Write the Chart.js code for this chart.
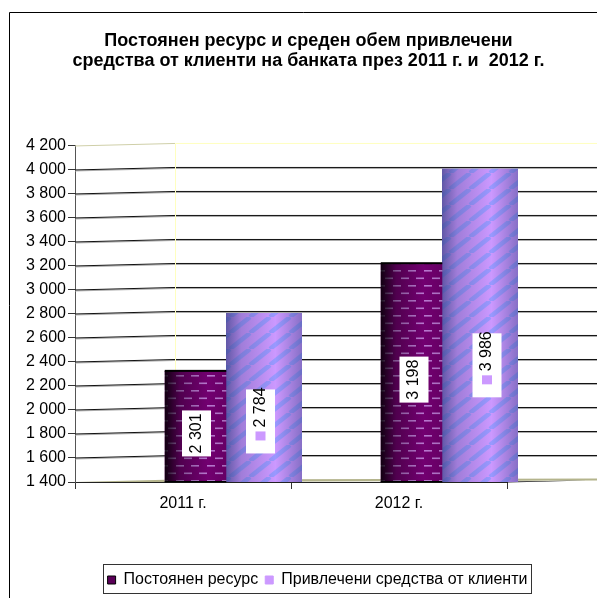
<!DOCTYPE html>
<html>
<head>
<meta charset="utf-8">
<style>html,body{margin:0;background:#fff}canvas{display:block}</style>
<script src="https://cdn.jsdelivr.net/npm/chart.js@4/dist/chart.umd.min.js"></script>
</head>
<body>
<canvas id="myChart" width="597" height="598"></canvas>
<script>
var titleLines = ['Постоянен ресурс и среден обем привлечени', 'средства от клиенти на банката през 2011 г. и  2012 г.'];
var categories = ['2011 г.', '2012 г.'];
var seriesNames = ['Постоянен ресурс', 'Привлечени средства от клиенти'];
var resourceValues = [2301, 3198];
var fundsValues = [2784, 3986];
var keyColors = ['#5a0058', '#cc99ff'];

var font = 'Liberation Sans';
var depthX = 100, depthY = 2.5;      // back wall offset of the fake 3D box
var barShiftX = 50, barShiftY = -3;  // bars stand in the middle of the box
var wallRight = 597;

function spaced(v) {
    return String(v).replace(/\B(?=(\d{3})+$)/g, ' ');
}

// fill patterns of the two series
function dashPattern() {
    var c = document.createElement('canvas');
    c.width = 31; c.height = 15;
    var g = c.getContext('2d');
    g.fillStyle = '#720070';
    g.fillRect(0, 0, 31, 15);
    g.fillStyle = '#b878d0';
    g.fillRect(2, 3, 8, 1.6);
    g.fillRect(17, 3, 8, 1.6);
    g.fillRect(10, 10.5, 8, 1.6);
    g.fillRect(25, 10.5, 6, 1.6);
    g.fillRect(0, 10.5, 2, 1.6);
    return g.createPattern(c, 'repeat');
}
function stripePattern() {
    var c = document.createElement('canvas');
    c.width = 20; c.height = 16;
    var g = c.getContext('2d');
    g.fillStyle = '#cc99ff';
    g.fillRect(0, 0, 20, 16);
    g.strokeStyle = '#9999ff';
    g.lineWidth = 4.5;
    [-20, 0, 20].forEach(function(o) {
        g.beginPath();
        g.moveTo(o, 16);
        g.lineTo(o + 20, 0);
        g.stroke();
    });
    return g.createPattern(c, 'repeat');
}

// box walls and gridlines, taken from the value axis
var wallsPlugin = {
    id: 'walls',
    afterLayout: function(chart) {
        // title and legend are centred on the whole picture, not on the short x axis
        chart.titleBlock.left += 55;
        chart.titleBlock.right += 55;
        chart.legend.left += 64;
        chart.legend.right += 64;
    },
    beforeDatasetsDraw: function(chart) {
        var ctx = chart.ctx, y = chart.scales.y, left = y.right;
        ctx.save();
        // frame of the picture
        ctx.strokeStyle = '#000';
        ctx.lineWidth = 1;
        ctx.beginPath();
        ctx.moveTo(9.5, 598);
        ctx.lineTo(9.5, 12.5);
        ctx.lineTo(597, 12.5);
        ctx.stroke();
        // gridlines
        y.ticks.forEach(function(t) {
            if (t.value === y.min || t.value === y.max) return;
            var py = y.getPixelForValue(t.value);
            ctx.lineWidth = 1;
            ctx.strokeStyle = '#aaa';
            ctx.beginPath();
            ctx.moveTo(left, py + 1);
            ctx.lineTo(left + depthX, py + 1 - depthY);
            ctx.lineTo(wallRight, py + 1 - depthY);
            ctx.stroke();
            ctx.strokeStyle = '#111';
            ctx.beginPath();
            ctx.moveTo(left, py);
            ctx.lineTo(left + depthX, py - depthY);
            ctx.lineTo(wallRight, py - depthY);
            ctx.stroke();
        });
        // pale yellow back wall
        var top = y.getPixelForValue(y.max), bottom = y.getPixelForValue(y.min);
        ctx.strokeStyle = '#ffffc0';
        ctx.beginPath();
        ctx.moveTo(left + depthX + 0.5, bottom);
        ctx.lineTo(left + depthX + 0.5, top - depthY);
        ctx.lineTo(wallRight, top - depthY);
        ctx.stroke();
        ctx.strokeStyle = '#cfcfa8';
        ctx.beginPath();
        ctx.moveTo(left, top);
        ctx.lineTo(left + depthX, top - depthY);
        ctx.stroke();
        // floor
        ctx.fillStyle = '#b4b48c';
        ctx.beginPath();
        ctx.moveTo(left, bottom);
        ctx.lineTo(left + depthX, bottom - depthY);
        ctx.lineTo(wallRight, bottom - depthY - 1);
        ctx.lineTo(wallRight, bottom - depthY + 1);
        ctx.lineTo(left + depthX, bottom);
        ctx.closePath();
        ctx.fill();
        ctx.fillStyle = '#111';
        ctx.beginPath();
        ctx.moveTo(chart.chartArea.right, bottom + 0.5);
        ctx.lineTo(wallRight - 10, bottom - depthY + 1);
        ctx.lineTo(chart.chartArea.right, bottom - depthY + 2);
        ctx.closePath();
        ctx.fill();
        ctx.restore();

        // bars are drawn moved into the box
        ctx.save();
        ctx.translate(barShiftX, barShiftY);
    },
    afterDatasetDraw: function(chart, args) {
        var ctx = chart.ctx, i = args.index;
        args.meta.data.forEach(function(bar) {
            var x0 = bar.x - bar.width / 2, x1 = bar.x + bar.width / 2;
            var g = ctx.createLinearGradient(x0, 0, x1, 0);
            if (i === 0) {
                g.addColorStop(0, 'rgba(0,0,0,0.85)');
                g.addColorStop(0.25, 'rgba(0,0,0,0.3)');
                g.addColorStop(0.7, 'rgba(0,0,0,0)');
                g.addColorStop(1, 'rgba(0,0,0,0.1)');
            } else {
                g.addColorStop(0, 'rgba(50,60,130,0.7)');
                g.addColorStop(0.2, 'rgba(60,60,130,0.3)');
                g.addColorStop(0.65, 'rgba(60,60,130,0)');
                g.addColorStop(1, 'rgba(50,60,130,0.45)');
            }
            ctx.fillStyle = g;
            ctx.fillRect(x0, bar.y, bar.width, bar.base - bar.y);
            if (i === 0) {
                ctx.fillStyle = '#000';
                ctx.fillRect(x0, bar.y - 1, bar.width, 2);
                ctx.fillRect(x0, bar.base - 1, bar.width, 1.5);
            }
        });
    },
    afterDatasetsDraw: function(chart) {
        var ctx = chart.ctx;
        ctx.restore();
        // value labels: white box, rotated number, and key square on the second series
        chart.data.datasets.forEach(function(ds, i) {
            chart.getDatasetMeta(i).data.forEach(function(bar, n) {
                var cx = bar.x + barShiftX + (i === 0 ? [1, 2.5][n] : [-3.5, 7][n]);
                var cy = (bar.y + bar.base) / 2 + barShiftY + (i === 0 ? 7 : [24, 40][n]);
                var h = i === 0 ? 46 : 64;
                ctx.save();
                ctx.fillStyle = '#fff';
                ctx.fillRect(cx - 14.5, cy - h / 2, 29, h);
                ctx.translate(cx, i === 0 ? cy : cy - 14);
                ctx.rotate(-Math.PI / 2);
                ctx.fillStyle = '#000';
                ctx.font = '16px "' + font + '"';
                ctx.textAlign = 'center';
                ctx.textBaseline = 'middle';
                ctx.fillText(spaced(ds.data[n]), 0, 0);
                ctx.restore();
                if (i === 1) {
                    ctx.fillStyle = keyColors[1];
                    ctx.fillRect(cx - 5, cy + 10, 10, 9);
                }
            });
        });
        // legend border
        ctx.save();
        ctx.strokeStyle = '#333';
        ctx.lineWidth = 1;
        ctx.strokeRect(103.5, 564.5, 428, 29);
        ctx.restore();
    }
};

var ctx = document.getElementById('myChart').getContext('2d');
var myChart = new Chart(ctx, {
    type: 'bar',
    data: {
        labels: categories,
        datasets: [{
            label: seriesNames[0],
            data: resourceValues,
            backgroundColor: dashPattern(),
            categoryPercentage: 150 / 216,
            barPercentage: 61.5 / 75,
            base: 1375,
            clip: false
        }, {
            label: seriesNames[1],
            data: fundsValues,
            backgroundColor: stripePattern(),
            categoryPercentage: 124 / 216,
            barPercentage: 76 / 62,
            base: 1375,
            clip: false
        }]
    },
    plugins: [wallsPlugin],
    options: {
        responsive: false,
        animation: false,
        layout: { padding: { top: 0, right: 90, left: 0, bottom: 0 } },
        plugins: {
            title: {
                display: true,
                text: titleLines,
                color: '#000',
                font: { family: font, size: 18, weight: 'bold', lineHeight: 1.11 },
                padding: { top: 31, bottom: 75 }
            },
            legend: {
                position: 'bottom',
                labels: {
                    color: '#000',
                    font: { family: font, size: 16 },
                    boxWidth: 8,
                    boxHeight: 8,
                    padding: 7,
                    generateLabels: function(chart) {
                        return seriesNames.map(function(n, i) {
                            return { text: n, fillStyle: keyColors[i], strokeStyle: i === 0 ? '#000' : keyColors[i], lineWidth: 1, datasetIndex: i };
                        });
                    }
                }
            },
            tooltip: { enabled: false }
        },
        scales: {
            x: {
                grid: { drawOnChartArea: false, color: '#333', tickLength: 7 },
                border: { color: '#222' },
                ticks: { color: '#000', font: { family: font, size: 16 }, padding: 5 },
                afterFit: function(s) { s.height = 83; }
            },
            y: {
                min: 1400,
                max: 4200,
                grid: { drawOnChartArea: false, color: '#333', tickLength: 7 },
                border: { color: '#555' },
                ticks: {
                    stepSize: 200,
                    color: '#000',
                    font: { family: font, size: 16 },
                    padding: 2,
                    autoSkip: false,
                    callback: function(v) { return spaced(v); }
                },
                afterFit: function(s) { s.width = 75; }
            }
        }
    }
});
</script>
</body>
</html>
